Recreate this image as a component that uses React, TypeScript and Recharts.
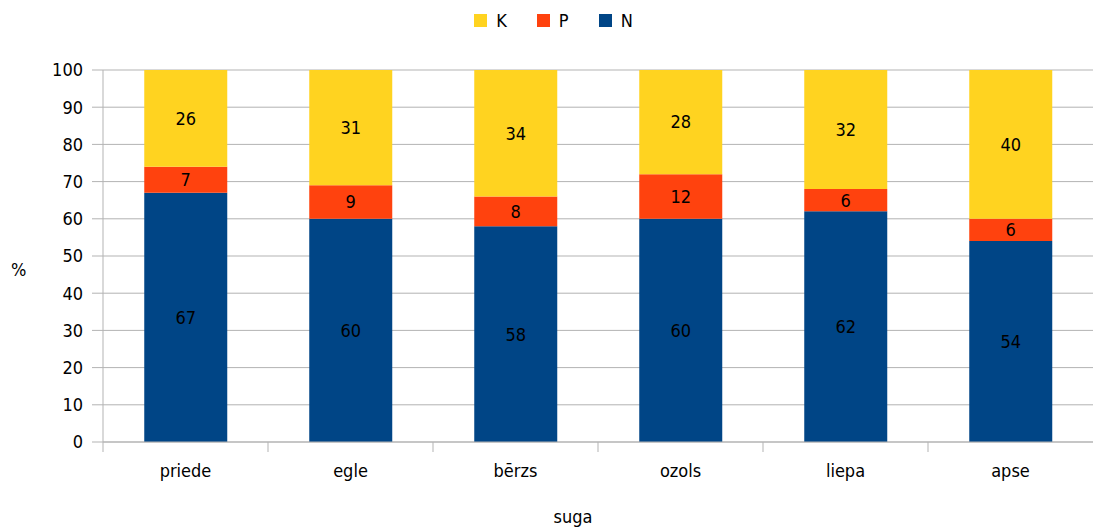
import { BarChart, Bar, XAxis, YAxis, CartesianGrid, Legend, LabelList } from "recharts";

const species = ["priede", "egle", "bērzs", "ozols", "liepa", "apse"];
const nValues = [67, 60, 58, 60, 62, 54];
const pValues = [7, 9, 8, 12, 6, 6];
const kValues = [26, 31, 34, 28, 32, 40];
const yTicks = [0, 10, 20, 30, 40, 50, 60, 70, 80, 90, 100];

const FONT = "'DejaVu Sans Condensed', 'DejaVu Sans', sans-serif";
const FS = 18;
const GRID = "#b3b3b3";

const series = [
    { key: "K", color: "#ffd320" },
    { key: "P", color: "#ff420e" },
    { key: "N", color: "#004586" },
];

const data = species.map((name, i) => ({
    name,
    N: nValues[i],
    P: pValues[i],
    K: kValues[i],
}));

const CategoryTick = (props: any) => {
    const { x, y, payload } = props;
    const half = payload.offset || 82.5;
    const top = y - 22;
    return (
        <g>
            <line x1={x - half} x2={x - half} y1={top} y2={top + 10} stroke={GRID} />
            <text
                x={x}
                y={y}
                dy="0.71em"
                textAnchor="middle"
                fill="#000"
                fontSize={FS}
                fontFamily={FONT}
            >
                {payload.value}
            </text>
        </g>
    );
};

const renderLegend = () => (
    <div
        style={{
            display: "flex",
            justifyContent: "center",
            alignItems: "center",
            height: 40,
            fontFamily: FONT,
            fontSize: FS,
            paddingLeft: 14,
        }}
    >
        {series.map((s) => (
            <div key={s.key} style={{ display: "flex", alignItems: "center", margin: "0 15px" }}>
                <span
                    style={{
                        display: "inline-block",
                        width: 13,
                        height: 13,
                        background: s.color,
                        marginRight: 9,
                    }}
                />
                <span>{s.key}</span>
            </div>
        ))}
    </div>
);

const App = () => {
    return (
        <div style={{ position: "absolute", left: 0, top: 0 }}>
            <BarChart
                width={1093}
                height={527}
                data={data}
                margin={{ top: 30, right: 0, bottom: 0, left: 0 }}
                barCategoryGap="25%"
            >
                <Legend
                    verticalAlign="top"
                    content={renderLegend}
                    wrapperStyle={{ top: 0, left: 0, width: 1093, height: 40 }}
                />
                <CartesianGrid vertical={false} stroke={GRID} />
                <XAxis
                    dataKey="name"
                    height={85}
                    tickLine={false}
                    tickSize={10}
                    tickMargin={12}
                    axisLine={{ stroke: GRID }}
                    tick={<CategoryTick />}
                    interval={0}
                    label={{
                        value: "suga",
                        position: "insideBottom",
                        offset: 4,
                        dx: -25,
                        fill: "#000",
                        fontSize: FS,
                        fontFamily: FONT,
                    }}
                />
                <YAxis
                    width={103}
                    domain={[0, 100]}
                    ticks={yTicks}
                    interval={0}
                    tickSize={11}
                    tickMargin={9}
                    axisLine={{ stroke: GRID }}
                    tickLine={{ stroke: GRID }}
                    tick={{ fill: "#000", fontSize: FS, fontFamily: FONT }}
                    label={{
                        value: "%",
                        position: "insideLeft",
                        offset: 11,
                        dy: 14,
                        fill: "#000",
                        fontSize: FS,
                        fontFamily: FONT,
                    }}
                />
                <Bar dataKey="N" stackId="a" fill="#004586" isAnimationActive={false}>
                    <LabelList dataKey="N" position="center" fill="#000" fontSize={FS} fontFamily={FONT} />
                </Bar>
                <Bar dataKey="P" stackId="a" fill="#ff420e" isAnimationActive={false}>
                    <LabelList dataKey="P" position="center" fill="#000" fontSize={FS} fontFamily={FONT} />
                </Bar>
                <Bar dataKey="K" stackId="a" fill="#ffd320" isAnimationActive={false}>
                    <LabelList dataKey="K" position="center" fill="#000" fontSize={FS} fontFamily={FONT} />
                </Bar>
            </BarChart>
        </div>
    );
};

export default App;
